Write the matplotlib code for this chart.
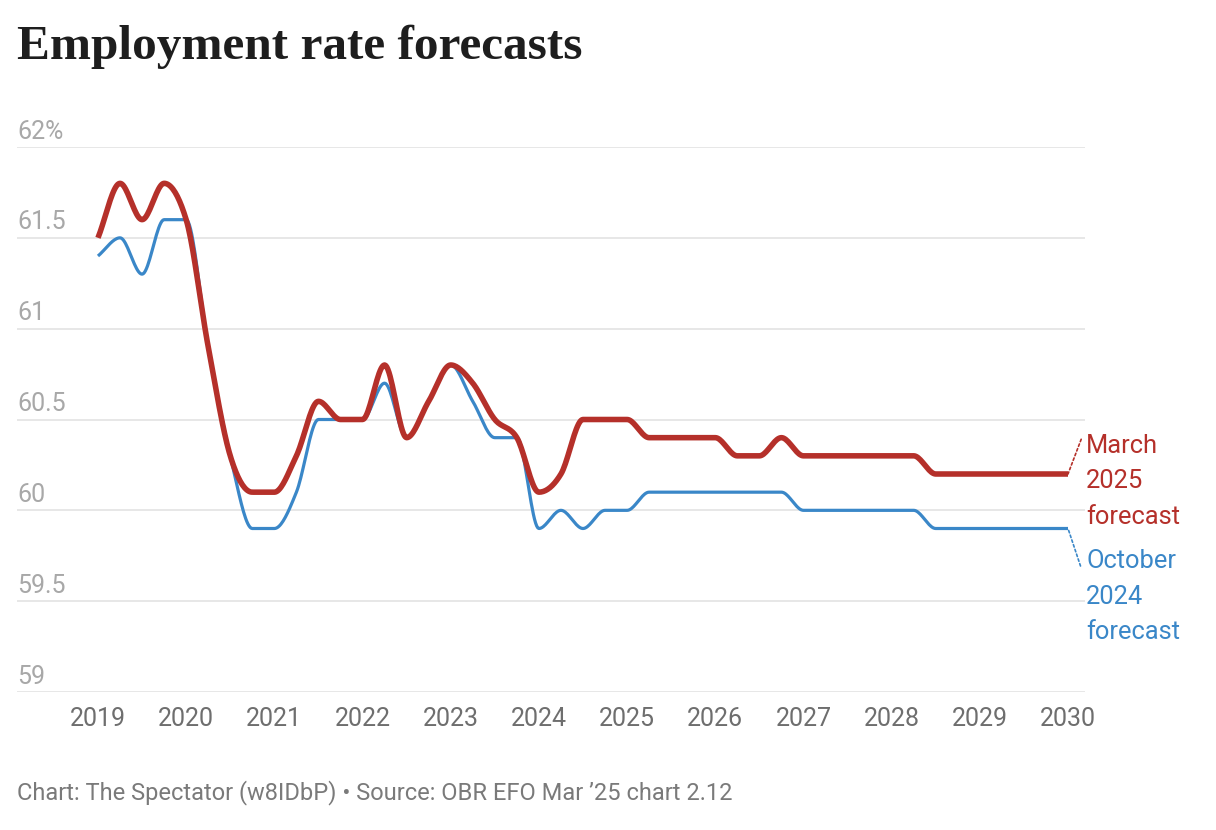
import numpy as np
import matplotlib
matplotlib.use("Agg")
from matplotlib import pyplot as plt
from matplotlib import transforms

plt.rcParams['font.family'] = ['Roboto', 'DejaVu Sans']

# quarterly points, 2019 Q1 .. 2030 Q1
quarters = 2019 + np.arange(45) * 0.25

march_2025 = [61.5, 61.8, 61.6, 61.8,
              61.6, 60.9, 60.3, 60.1,
              60.1, 60.3, 60.6, 60.5,
              60.5, 60.8, 60.4, 60.6,
              60.8, 60.7, 60.5, 60.4,
              60.1, 60.2, 60.5, 60.5,
              60.5, 60.4, 60.4, 60.4,
              60.4, 60.3, 60.3, 60.4,
              60.3, 60.3, 60.3, 60.3,
              60.3, 60.3, 60.2, 60.2,
              60.2, 60.2, 60.2, 60.2,
              60.2]

october_2024 = [61.4, 61.5, 61.3, 61.6,
                61.6, 60.9, 60.3, 59.9,
                59.9, 60.1, 60.5, 60.5,
                60.5, 60.7, 60.4, 60.6,
                60.8, 60.6, 60.4, 60.4,
                59.9, 60.0, 59.9, 60.0,
                60.0, 60.1, 60.1, 60.1,
                60.1, 60.1, 60.1, 60.1,
                60.0, 60.0, 60.0, 60.0,
                60.0, 60.0, 59.9, 59.9,
                59.9, 59.9, 59.9, 59.9,
                59.9]

year_ticks = list(range(2019, 2031))
y_ticks = [59, 59.5, 60, 60.5, 61, 61.5, 62]
y_labels = ['59', '59.5', '60', '60.5', '61', '61.5', '62%']

RED = '#b5302a'
BLUE = '#3a87c8'


def monotone(x, y, n=20):
    ''' monotone cubic (like d3 curveMonotoneX) so flat bits stay flat '''
    x = np.asarray(x, float)
    y = np.asarray(y, float)
    h = np.diff(x)
    d = np.diff(y) / h
    m = np.zeros_like(y)
    m[0], m[-1] = d[0], d[-1]
    for i in range(1, len(y) - 1):
        if d[i - 1] * d[i] <= 0:
            m[i] = 0
        else:
            p = (d[i - 1] * h[i] + d[i] * h[i - 1]) / (h[i - 1] + h[i])
            m[i] = np.sign(d[i]) * min(abs(p), 2 * abs(d[i - 1]), 2 * abs(d[i]))
    xs, ys = [], []
    for i in range(len(h)):
        t = np.linspace(0, 1, n, endpoint=False)
        h00 = 2 * t**3 - 3 * t**2 + 1
        h10 = t**3 - 2 * t**2 + t
        h01 = -2 * t**3 + 3 * t**2
        h11 = t**3 - t**2
        xs.append(x[i] + t * h[i])
        ys.append(h00 * y[i] + h10 * h[i] * m[i] + h01 * y[i + 1] + h11 * h[i] * m[i + 1])
    xs.append([x[-1]])
    ys.append([y[-1]])
    return np.concatenate(xs), np.concatenate(ys)


fig = plt.figure(figsize=(12.16, 8.3), dpi=100)
ax = fig.add_axes([17 / 1216, 138 / 830, 1068 / 1216, 545 / 830])

bx, by = monotone(quarters, october_2024)
rx, ry = monotone(quarters, march_2025)
ax.plot(bx, by, color=BLUE, lw=2.3, solid_capstyle='butt', zorder=3)
ax.plot(rx, ry, color=RED, lw=4.0, solid_capstyle='butt', zorder=4)

ax.set_xlim(2019 - 81 / 88.2, 2030 + 17 / 88.2)
ax.set_ylim(59, 62)

for s in ax.spines.values():
    s.set_visible(False)
ax.set_yticks(y_ticks)
ax.yaxis.grid(True, color='#e3e3e3', lw=1.2)
ax.tick_params(axis='y', length=0, labelleft=False)
ax.set_axisbelow(True)

# y labels sit on top of their gridline, at the left edge
trans = transforms.blended_transform_factory(ax.transAxes, ax.transData)
for v, lab in zip(y_ticks, y_labels):
    ax.annotate(lab, xy=(0, v), xycoords=trans, xytext=(0, 2.5), textcoords='offset points',
                ha='left', va='bottom', fontsize=18, color='#a8a8a8')

ax.set_xticks(year_ticks)
ax.set_xticklabels([str(y) for y in year_ticks])
ax.tick_params(axis='x', length=0, pad=11, labelsize=18, labelcolor='#6e6e6e')

# direct labels with dotted leaders
ax.annotate('', xy=(quarters[-1], march_2025[-1]), xytext=(9.5, 25),
            textcoords='offset points',
            arrowprops=dict(arrowstyle='-', ls=(0, (1.5, 1.5)), color=RED, lw=1.2,
                            shrinkA=0, shrinkB=0))
ax.annotate('March\n2025\nforecast', xy=(quarters[-1], march_2025[-1]), xytext=(13, 29),
            textcoords='offset points', ha='left', va='top', fontsize=18.4,
            color=RED, linespacing=1.6, annotation_clip=False)
ax.annotate('', xy=(quarters[-1], october_2024[-1]), xytext=(9, -27),
            textcoords='offset points',
            arrowprops=dict(arrowstyle='-', ls=(0, (1.5, 1.5)), color=BLUE, lw=1.2,
                            shrinkA=0, shrinkB=0))
ax.annotate('October\n2024\nforecast', xy=(quarters[-1], october_2024[-1]), xytext=(13, -15),
            textcoords='offset points', ha='left', va='top', fontsize=18.4,
            color=BLUE, linespacing=1.6, annotation_clip=False)

fig.text(17 / 1216, 1 - 47 / 830, 'Employment rate forecasts', family='Liberation Serif',
         fontweight='bold', fontsize=35.5, color='#1e1e1e', va='center', ha='left')
fig.text(17 / 1216, 1 - 793 / 830,
         'Chart: The Spectator (w8IDbP) \u2022 Source: OBR EFO Mar \u201925 chart 2.12',
         fontsize=17, color='#7a7a7a', va='center', ha='left')

fig.savefig('out.png', dpi=100, facecolor='white')
